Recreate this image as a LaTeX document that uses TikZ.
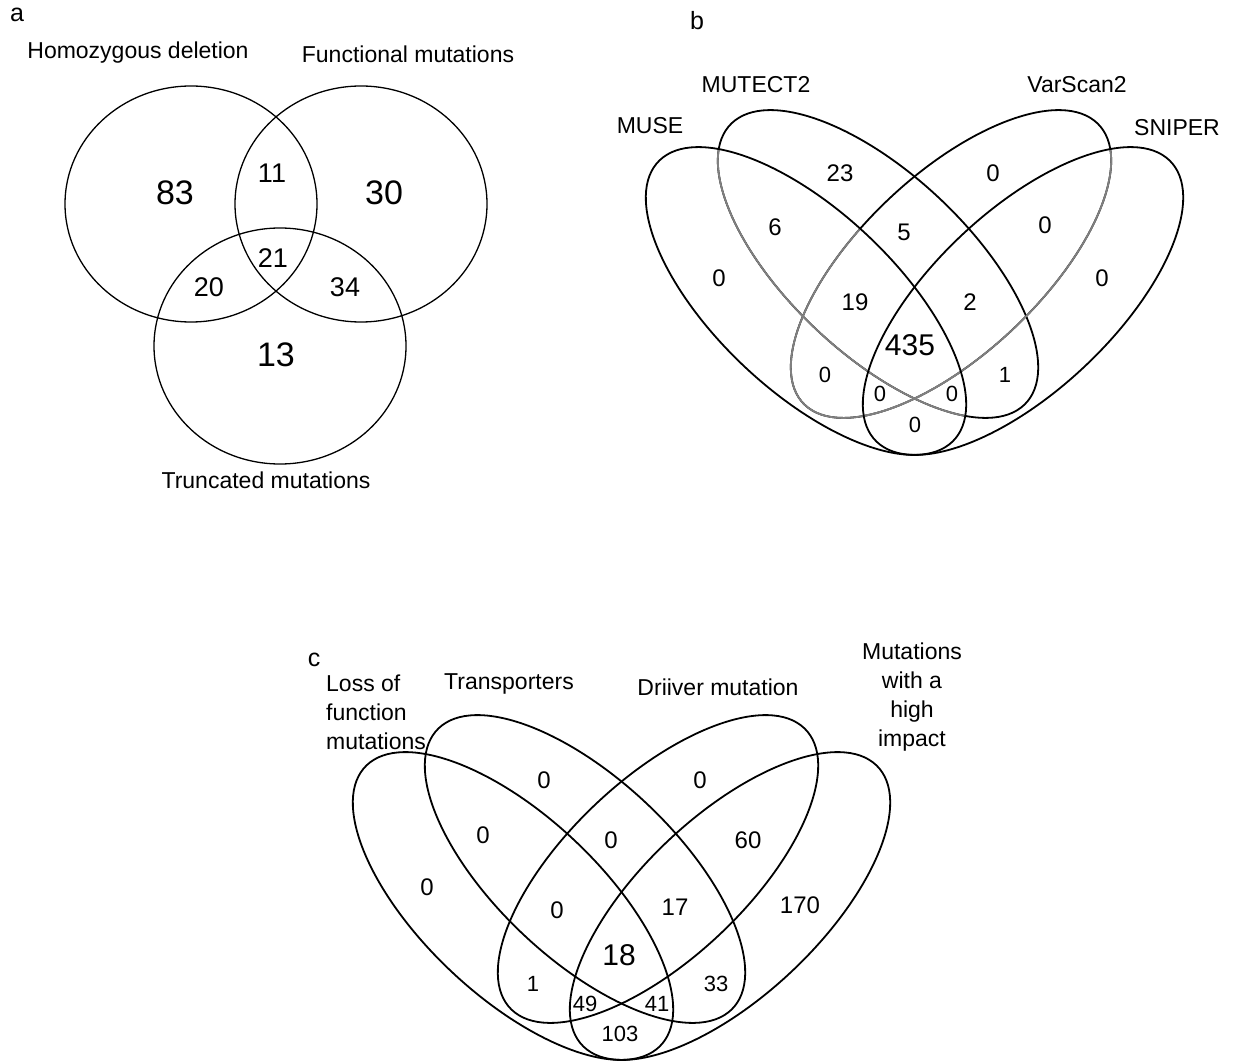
\documentclass[tikz,border=0pt]{standalone}
\usepackage{fontspec}
\setmainfont{Liberation Sans}
\usetikzlibrary{positioning}

\tikzset{
  ring/.style={line width=1.3pt},
  setline/.style={line width=1.8pt},
  quad/.style={x radius=203pt, y radius=90pt},
  greyline/.style={line width=1.8pt, black!50},
  muse/.style={shift={(806,301)}, xscale=1.02, yscale=0.98, rotate=-45},
  mutect/.style={shift={(878,264)}, xscale=1.02, yscale=0.98, rotate=-45},
  varscan/.style={shift={(951,264)}, xscale=1.02, yscale=0.98, rotate=45},
  sniper/.style={shift={(1023,301)}, xscale=1.02, yscale=0.98, rotate=45},
  lof/.style={shift={(513,906)}, xscale=1.02, yscale=0.98, rotate=-45},
  trans/.style={shift={(585,869)}, xscale=1.02, yscale=0.98, rotate=-45},
  driver/.style={shift={(658,869)}, xscale=1.02, yscale=0.98, rotate=45},
  impact/.style={shift={(730,906)}, xscale=1.02, yscale=0.98, rotate=45},
  panel/.style={font=\fontsize{25}{28}\selectfont, inner sep=0pt},
  setname/.style={font=\fontsize{23}{29}\selectfont, inner sep=0pt},
  cnt/.style={font=\fontsize{24}{28}\selectfont, inner sep=0pt},
  cntlow/.style={font=\fontsize{22}{26}\selectfont, inner sep=0pt},
  cntmid/.style={font=\fontsize{27}{30}\selectfont, inner sep=0pt},
  cntbig/.style={font=\fontsize{34}{38}\selectfont, inner sep=0pt},
  cntcore/.style={font=\fontsize{30}{34}\selectfont, inner sep=0pt},
}

\begin{document}
\begin{tikzpicture}[x=1pt,y=-1pt]
  \useasboundingbox (0,0) rectangle (1233,1064);

  % a
  \node[panel] (a) at (17,15) {a};
  \node[setname] (hom) at (138,53) {Homozygous deletion};
  \node[setname] (fun) at (408,54) {Functional mutations};
  \node[setname] (tru) at (266,480) {Truncated mutations};
  \draw[ring] (191,204) ellipse [x radius=126pt, y radius=118pt];
  \draw[ring] (361,204) ellipse [x radius=126pt, y radius=118pt];
  \draw[ring] (280,346) ellipse [x radius=126pt, y radius=118pt];
  \node[cntbig] (a-hom) at (175,193) {83};
  \node[cntmid] (a-homfun) at (272,173) {11};
  \node[cntbig] (a-fun) at (384,193) {30};
  \node[cntmid] (a-all) at (273,258) {21};
  \node[cntmid] (a-homtru) at (209,287) {20};
  \node[cntmid] (a-funtru) at (345,287) {34};
  \node[cntbig] (a-tru) at (276,355) {13};

  % b
  \node[panel] (b) at (697,21) {b};
  \node[setname] (muse) at (650,126) {MUSE};
  \node[setname] (mutect) at (756,85) {MUTECT2};
  \node[setname] (varscan) at (1077,85) {VarScan2};
  \node[setname] (sniper) at (1177,128) {SNIPER};
  \draw[setline, mutect] (0,0) ellipse [quad];
  \draw[setline, varscan] (0,0) ellipse [quad];
  \begin{scope}
    \clip[muse] (0,0) ellipse [quad];
    \draw[greyline, mutect] (0,0) ellipse [quad];
    \draw[greyline, varscan] (0,0) ellipse [quad];
  \end{scope}
  \begin{scope}
    \clip[sniper] (0,0) ellipse [quad];
    \draw[greyline, varscan] (0,0) ellipse [quad];
  \end{scope}
  \draw[setline, muse] (0,0) ellipse [quad];
  \draw[setline, sniper] (0,0) ellipse [quad];
  \node[cnt] (b-1) at (719,278) {0};
  \node[cnt] (b-2) at (840,173) {23};
  \node[cnt] (b-3) at (993,173) {0};
  \node[cnt] (b-4) at (1102,278) {0};
  \node[cnt] (b-12) at (775,227) {6};
  \node[cnt] (b-23) at (904,232) {5};
  \node[cnt] (b-34) at (1045,225) {0};
  \node[cnt] (b-123) at (855,302) {19};
  \node[cnt] (b-234) at (970,302) {2};
  \node[cntcore] (b-1234) at (910,345) {435};
  \node[cntlow] (b-13) at (825,375) {0};
  \node[cntlow] (b-24) at (1005,375) {1};
  \node[cntlow] (b-134) at (880,394) {0};
  \node[cntlow] (b-124) at (952,394) {0};
  \node[cntlow] (b-14) at (915,425) {0};

  % c
  \node[panel] (c) at (314,660) {c};
  \node[setname, align=left, anchor=west] (loss) at (326,712) {Loss of\\function\\mutations};
  \node[setname] (tra) at (509,684) {Transporters};
  \node[setname] (dri) at (718,687) {Driiver mutation};
  \node[setname, align=center] (hig) at (912,697) {Mutations\\with a\\high\\impact};
  \draw[setline, lof] (0,0) ellipse [quad];
  \draw[setline, trans] (0,0) ellipse [quad];
  \draw[setline, driver] (0,0) ellipse [quad];
  \draw[setline, impact] (0,0) ellipse [quad];
  \node[cnt] (c-1) at (427,887) {0};
  \node[cnt] (c-2) at (544,780) {0};
  \node[cnt] (c-3) at (700,780) {0};
  \node[cnt] (c-4) at (800,905) {170};
  \node[cnt] (c-12) at (483,835) {0};
  \node[cnt] (c-23) at (611,840) {0};
  \node[cnt] (c-34) at (748,840) {60};
  \node[cnt] (c-123) at (557,910) {0};
  \node[cnt] (c-234) at (675,907) {17};
  \node[cntcore] (c-1234) at (619,955) {18};
  \node[cntlow] (c-13) at (533,984) {1};
  \node[cntlow] (c-24) at (716,984) {33};
  \node[cntlow] (c-134) at (585,1004) {49};
  \node[cntlow] (c-124) at (657,1004) {41};
  \node[cntlow] (c-14) at (620,1034) {103};
\end{tikzpicture}
\end{document}
